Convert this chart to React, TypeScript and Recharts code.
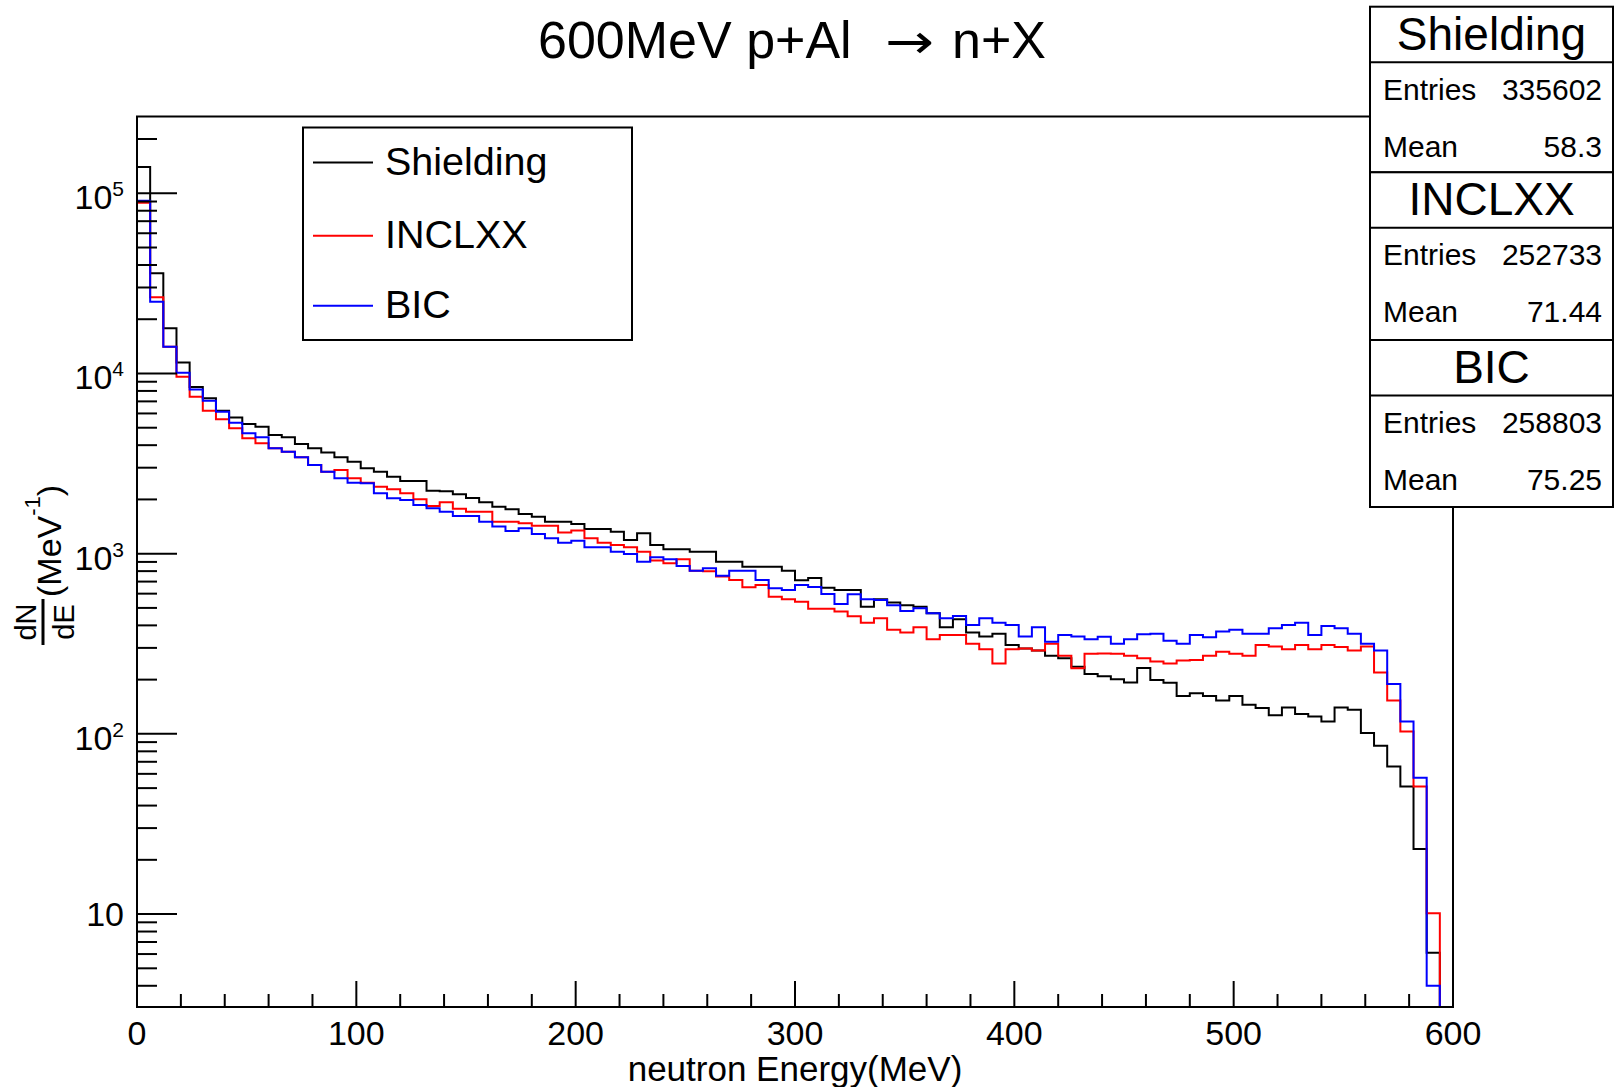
import React from "react";
import { LineChart, Line, XAxis, YAxis } from "recharts";

// 100 bins of 6 MeV between 0 and 600 MeV, values in counts / MeV
const binEdges = Array.from({ length: 101 }, (_, i) => i * 6);

const shielding = [
  140000, 36000, 17800, 11500, 8400, 7280, 6220, 5690, 5250, 5070,
  4560, 4430, 4060, 3850, 3640, 3430, 3240, 2980, 2850, 2675,
  2530, 2530, 2237, 2220, 2140, 2040, 1930, 1823, 1763, 1660,
  1604, 1505, 1505, 1463, 1372, 1372, 1325, 1191, 1297, 1117,
  1057, 1057, 1026, 1026, 903, 903, 847, 847, 847, 805,
  712, 733, 646, 629, 629, 508, 558, 535, 517, 508,
  467, 391, 432, 365, 347, 359, 311, 298, 290, 271,
  263, 236, 215, 209, 201, 193, 232, 199, 192, 162,
  168, 162, 153, 162, 145, 139, 127, 140, 129, 125,
  117, 140, 136, 101, 86, 66, 51, 23, 6.1, 0,
];

const inclxx = [
  88700, 26500, 14090, 9590, 7430, 6220, 5570, 4960, 4370, 4100,
  3850, 3680, 3430, 3110, 2850, 2910, 2620, 2475, 2350, 2276,
  2163, 2003, 1840, 1930, 1775, 1710, 1710, 1505, 1505, 1476,
  1430, 1430, 1309, 1343, 1217, 1151, 1117, 1086, 1026, 915,
  885, 931, 805, 800, 746, 715, 651, 670, 577, 558,
  541, 495, 495, 478, 450, 414, 438, 378, 365, 391,
  335, 354, 354, 316, 295, 246, 295, 298, 290, 316,
  271, 231, 278, 279, 278, 271, 263, 252, 246, 255,
  257, 271, 286, 278, 271, 311, 305, 295, 311, 295,
  311, 303, 290, 305, 219, 153, 103, 51, 10.1, 0,
];

const bic = [
  91000, 25000, 14090, 10100, 8160, 7060, 6140, 5330, 4660, 4430,
  3850, 3680, 3430, 3110, 2850, 2620, 2475, 2460, 2163, 2030,
  1987, 1863, 1786, 1710, 1618, 1618, 1505, 1413, 1337, 1384,
  1287, 1217, 1151, 1180, 1086, 1086, 1026, 996, 903, 955,
  931, 855, 805, 830, 753, 805, 805, 715, 643, 629,
  670, 653, 597, 526, 596, 558, 553, 517, 481, 498,
  467, 438, 451, 402, 438, 414, 402, 347, 391, 325,
  354, 347, 335, 346, 316, 335, 357, 359, 329, 316,
  354, 344, 370, 378, 359, 359, 386, 402, 414, 354,
  397, 386, 359, 316, 290, 189, 117, 57, 4.0, 0,
];

const xMajorTicks = [0, 100, 200, 300, 400, 500, 600];
const xMinorTicks = [
  20, 40, 60, 80, 120, 140, 160, 180, 220, 240, 260, 280,
  320, 340, 360, 380, 420, 440, 460, 480, 520, 540, 560, 580,
];
const yMajorTicks = [10, 100, 1000, 10000, 100000];
const yMinorTicks = [
  4, 5, 6, 7, 8, 9,
  20, 30, 40, 50, 60, 70, 80, 90,
  200, 300, 400, 500, 600, 700, 800, 900,
  2000, 3000, 4000, 5000, 6000, 7000, 8000, 9000,
  20000, 30000, 40000, 50000, 60000, 70000, 80000, 90000,
  200000,
];

const statsBlocks = [
  { name: "Shielding", entries: "335602", mean: "58.3" },
  { name: "INCLXX", entries: "252733", mean: "71.44" },
  { name: "BIC", entries: "258803", mean: "75.25" },
];

const series = [
  { key: "shielding", label: "Shielding", color: "#000000" },
  { key: "inclxx", label: "INCLXX", color: "#ff0000" },
  { key: "bic", label: "BIC", color: "#0000ff" },
];

const W = 1616;
const H = 1087;
const PLOT_LEFT = 137;
const PLOT_RIGHT = 1453;
const PLOT_TOP = 116.5;
const PLOT_BOTTOM = 1007;
const Y_MIN = 3.05;
const Y_MAX = 266700;
const FONT = "'Liberation Sans', Arial, Helvetica, sans-serif";

const table = binEdges.map((e, i) => {
  const b = Math.min(i, shielding.length - 1);
  return { e, shielding: shielding[b], inclxx: inclxx[b], bic: bic[b] };
});

function YTick(props: any) {
  const { y, payload } = props;
  const v = payload.value;
  const major = yMajorTicks.includes(v);
  const exp = Math.round(Math.log10(v));
  return (
    <g>
      <line x1={PLOT_LEFT} x2={PLOT_LEFT + (major ? 40 : 20)} y1={y} y2={y} stroke="#000" strokeWidth={2} />
      {major && exp === 1 && (
        <text x={124} y={y + 12} textAnchor="end" fontSize={34} fontFamily={FONT} fill="#000">
          10
        </text>
      )}
      {major && exp > 1 && (
        <text x={124} y={y + 16} textAnchor="end" fontSize={34} fontFamily={FONT} fill="#000">
          10
          <tspan dy={-13} fontSize={21}>
            {exp}
          </tspan>
        </text>
      )}
    </g>
  );
}

function XTick(props: any) {
  const { x, payload } = props;
  const major = xMajorTicks.includes(payload.value);
  return (
    <g>
      <line x1={x} x2={x} y1={PLOT_BOTTOM} y2={PLOT_BOTTOM - (major ? 26 : 13)} stroke="#000" strokeWidth={2} />
      {major && (
        <text x={x} y={1045} textAnchor="middle" fontSize={34} fontFamily={FONT} fill="#000">
          {payload.value}
        </text>
      )}
    </g>
  );
}

function StatsBox() {
  const left = 1370;
  const right = 1613;
  const cx = (left + right) / 2;
  const tops = [6.7, 172.3, 340];
  const bottoms = [172.3, 340, 507];
  return (
    <g fontFamily={FONT} fill="#000">
      {statsBlocks.map((s, i) => {
        const top = tops[i];
        const bottom = bottoms[i];
        const head = top + 55.5;
        return (
          <g key={s.name}>
            <rect x={left} y={top} width={right - left} height={bottom - top} fill="#fff" stroke="#000" strokeWidth={2} />
            <line x1={left} x2={right} y1={head} y2={head} stroke="#000" strokeWidth={2} />
            <text x={cx} y={top + 43} textAnchor="middle" fontSize={46}>
              {s.name}
            </text>
            <text x={1383} y={top + 93} fontSize={30}>Entries</text>
            <text x={1602} y={top + 93} fontSize={30} textAnchor="end">
              {s.entries}
            </text>
            <text x={1383} y={top + 150} fontSize={30}>Mean</text>
            <text x={1602} y={top + 150} fontSize={30} textAnchor="end">
              {s.mean}
            </text>
          </g>
        );
      })}
    </g>
  );
}

function Legend() {
  const rows = [175, 248.3, 318.3];
  return (
    <g fontFamily={FONT}>
      <rect x={303} y={127.5} width={329} height={212.5} fill="#fff" stroke="#000" strokeWidth={2} />
      {series.map((s, i) => (
        <g key={s.key}>
          <line x1={313} x2={373} y1={rows[i] - 12.5} y2={rows[i] - 12.5} stroke={s.color} strokeWidth={2} />
          <text x={385} y={rows[i]} fontSize={39.5} fill="#000">
            {s.label}
          </text>
        </g>
      ))}
    </g>
  );
}

export default function App() {
  return (
    <div style={{ position: "absolute", left: 0, top: 0, width: W, height: H, background: "#fff" }}>
      <LineChart
        width={W}
        height={H}
        data={table}
        margin={{ top: PLOT_TOP, right: W - PLOT_RIGHT, bottom: H - PLOT_BOTTOM - 1, left: PLOT_LEFT - 1 }}
      >
        <XAxis
          dataKey="e"
          type="number"
          domain={[0, 600]}
          ticks={[...xMajorTicks, ...xMinorTicks]}
          interval={0}
          height={1}
          axisLine={false}
          tickLine={false}
          tick={(p: any) => <XTick {...p} />}
        />
        <YAxis
          scale="log"
          domain={[Y_MIN, Y_MAX]}
          allowDataOverflow
          ticks={[...yMajorTicks, ...yMinorTicks]}
          interval={0}
          width={1}
          axisLine={false}
          tickLine={false}
          tick={(p: any) => <YTick {...p} />}
        />
        {series.map((s) => (
          <Line
            key={s.key}
            type="stepAfter"
            dataKey={(d: any) => Math.max(d[s.key], Y_MIN)}
            stroke={s.color}
            strokeWidth={2}
            dot={false}
            activeDot={false}
            isAnimationActive={false}
          />
        ))}
      </LineChart>
      <svg
        width={W}
        height={H}
        style={{ position: "absolute", left: 0, top: 0, pointerEvents: "none" }}
      >
        <rect
          x={PLOT_LEFT}
          y={PLOT_TOP}
          width={PLOT_RIGHT - PLOT_LEFT}
          height={PLOT_BOTTOM - PLOT_TOP}
          fill="none"
          stroke="#000"
          strokeWidth={2}
        />
        <g fontFamily={FONT} fontSize={52} fill="#000">
          <text x={538} y={58}>600MeV p+Al</text>
          <text
            x={885}
            y={58}
            fontFamily="'DejaVu Sans', sans-serif"
            fontSize={48}
            textLength={49}
            lengthAdjust="spacingAndGlyphs"
          >
            {"\u2192"}
          </text>
          <text x={952} y={58}>n+X</text>
        </g>
        <text x={795} y={1081} textAnchor="middle" fontSize={35} fontFamily={FONT}>
          neutron Energy(MeV)
        </text>
        <g transform="translate(0,643) rotate(-90)" fontFamily={FONT}>
          <text x={21} y={36} textAnchor="middle" fontSize={29}>
            dN
          </text>
          <line x1={-2} x2={44} y1={43} y2={43} stroke="#000" strokeWidth={3} />
          <text x={21} y={74} textAnchor="middle" fontSize={29}>
            dE
          </text>
          <text x={46} y={61} fontSize={34}>
            (MeV
            <tspan dy={-21} fontSize={22}>
              -1
            </tspan>
            <tspan dy={21}>)</tspan>
          </text>
        </g>
        <Legend />
        <StatsBox />
      </svg>
    </div>
  );
}
